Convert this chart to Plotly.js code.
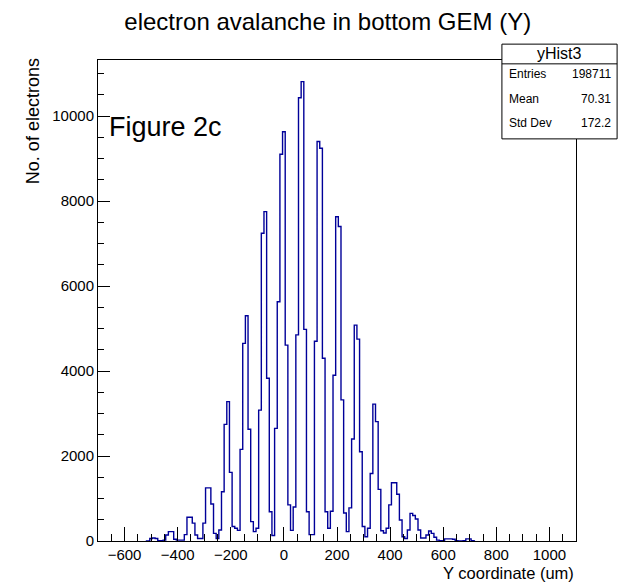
<!DOCTYPE html>
<html>
<head>
<meta charset="utf-8">
<script src="https://cdn.plot.ly/plotly-3.0.1.min.js"></script>
<style>html,body{margin:0;padding:0;background:#fff;}#chart{width:634px;height:583px;}</style>
</head>
<body>
<div id="chart"></div>
<script>
// Bin centres (um) of histogram yHist3, 10 um bins
const binCenters = [-520,-510,-500,-490,-480,-470,-460,-450,-440,-430,-420,-410,-400,-390,-380,-370,-360,-350,-340,-330,
-320,-310,-300,-290,-280,-270,-260,-250,-240,-230,-220,-210,-200,-190,-180,-170,-160,-150,-140,-130,
-120,-110,-100,-90,-80,-70,-60,-50,-40,-30,-20,-10,0,10,20,30,40,50,60,70,
80,90,100,110,120,130,140,150,160,170,180,190,200,210,220,230,240,250,260,270,
280,290,300,310,320,330,340,350,360,370,380,390,400,410,420,430,440,450,460,470,
480,490,500,510,520,530,540,550,560,570,580,590,600,610,620,630,640,650,660,670,
680,690,700,710,720];
// Number of electrons per bin
const counts = [0,0,60,70,60,10,10,20,140,220,220,40,20,20,20,150,560,560,420,140,
60,60,420,1250,1250,870,180,60,260,1160,2745,3280,1615,340,300,250,2157,4650,5300,2630,
455,220,300,3080,7240,7750,3830,690,130,2650,5630,9100,9630,4610,850,250,800,4850,10430,10810,
4980,690,150,150,4700,9400,9240,4300,690,300,700,3900,7630,7400,3320,660,220,780,2400,5080,
4750,2100,340,100,300,1590,3220,2810,1215,240,190,300,850,1370,1370,1100,494,100,60,260,
650,600,517,260,70,70,140,235,180,90,20,10,10,50,50,50,40,10,0,0,
10,50,50,10,0];

const xTickVals = [-600,-400,-200,0,200,400,600,800,1000];
const yTickVals = [0,2000,4000,6000,8000,10000];

const statsTitle = 'yHist3';
const statsLabels = ['Entries','Mean','Std Dev'];
const statsValues = ['198711','70.31','172.2'];

const SANS = "'Liberation Sans', Arial, Helvetica, sans-serif";

const trace = {
  x: binCenters, y: counts, type: 'scatter', mode: 'lines',
  line: {shape: 'hvh', color: '#000099', width: 1.4},
  hoverinfo: 'skip', showlegend: false
};

// stats box geometry in paper coords
const bx0 = 0.845, bx1 = 1.086, by0 = 0.836, by1 = 1.033, bySep = 0.992;
const rowY = [0.970, 0.918, 0.868];

const annotations = [
  {text: 'Y coordinate (um)', xref: 'paper', yref: 'paper', x: 1.0, y: -0.067, xanchor: 'right', yanchor: 'middle', showarrow: false, font: {family: SANS, size: 16.5, color: '#000'}},
  {text: 'No. of electrons', xref: 'paper', yref: 'paper', x: -0.136, y: 1.008, xanchor: 'center', yanchor: 'top', textangle: -90, showarrow: false, font: {family: SANS, size: 18, color: '#000'}},
  {text: 'Figure 2c', xref: 'paper', yref: 'paper', x: 0.019, y: 0.861, xanchor: 'left', yanchor: 'middle', showarrow: false, font: {family: SANS, size: 27, color: '#000'}},
  {text: statsTitle, xref: 'paper', yref: 'paper', x: (bx0 + bx1) / 2, y: (bySep + by1) / 2, xanchor: 'center', yanchor: 'middle', showarrow: false, font: {family: SANS, size: 16, color: '#000'}}
];
statsLabels.forEach((lab, i) => {
  annotations.push({text: lab, xref: 'paper', yref: 'paper', x: bx0 + 0.01, y: rowY[i], xanchor: 'left', yanchor: 'middle', showarrow: false, font: {family: SANS, size: 12, color: '#000'}});
  annotations.push({text: statsValues[i], xref: 'paper', yref: 'paper', x: bx1 - 0.008, y: rowY[i], xanchor: 'right', yanchor: 'middle', showarrow: false, font: {family: SANS, size: 12, color: '#000'}});
});

const layout = {
  width: 634, height: 583,
  margin: {l: 98, r: 58, t: 60, b: 42, pad: 0},
  paper_bgcolor: '#fff', plot_bgcolor: '#fff',
  title: {text: 'electron avalanche in bottom GEM (Y)', font: {family: SANS, size: 24, color: '#000'},
          xref: 'container', yref: 'container', x: 0.517, y: 1 - 22 / 583, xanchor: 'center', yanchor: 'middle'},
  xaxis: {
    range: [-700, 1100], showgrid: false, zeroline: false,
    showline: true, linecolor: '#000', linewidth: 1, mirror: true,
    ticks: 'inside', ticklen: 14, tickwidth: 1, tickcolor: '#000',
    tickvals: xTickVals, ticktext: xTickVals.map(v => v < 0 ? '\u2212' + Math.abs(v) : String(v)),
    minor: {dtick: 50, tick0: 0, ticks: 'inside', ticklen: 7, tickwidth: 1, tickcolor: '#000', showgrid: false},
    tickfont: {family: SANS, size: 15, color: '#000'}
  },
  yaxis: {
    range: [0, 11318], showgrid: false, zeroline: false,
    showline: true, linecolor: '#000', linewidth: 1, mirror: true,
    ticks: 'inside', ticklen: 12, tickwidth: 1, tickcolor: '#000',
    tickvals: yTickVals, ticktext: yTickVals.map(String),
    minor: {dtick: 500, tick0: 0, ticks: 'inside', ticklen: 6, tickwidth: 1, tickcolor: '#000', showgrid: false},
    tickfont: {family: SANS, size: 15, color: '#000'}
  },
  shapes: [
    {type: 'rect', xref: 'paper', yref: 'paper', x0: bx0, x1: bx1, y0: by0, y1: by1, line: {color: '#000', width: 1}, fillcolor: '#fff', layer: 'above'},
    {type: 'line', xref: 'paper', yref: 'paper', x0: bx0, x1: bx1, y0: bySep, y1: bySep, line: {color: '#000', width: 1}, layer: 'above'}
  ],
  annotations: annotations
};

Plotly.newPlot('chart', [trace], layout, {staticPlot: true, displayModeBar: false});
</script>
</body>
</html>
